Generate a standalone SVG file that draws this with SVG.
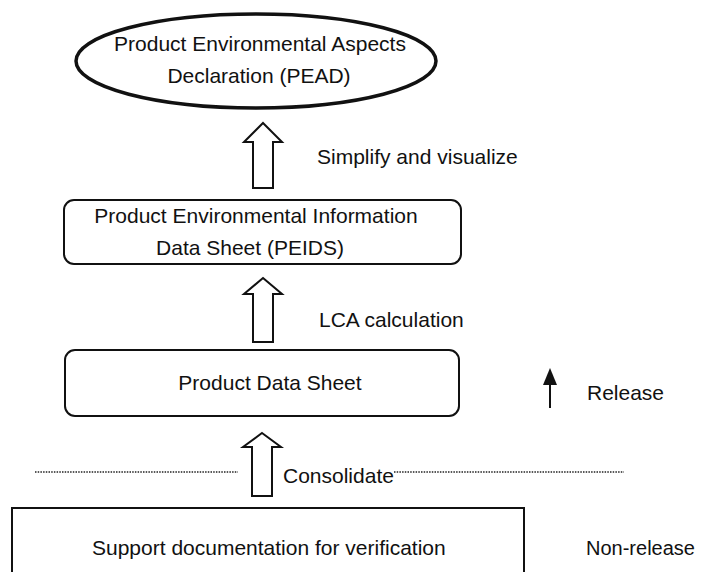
<svg xmlns="http://www.w3.org/2000/svg" width="703" height="572" viewBox="0 0 703 572">
<style>
text{font-family:"Liberation Sans",Arial,sans-serif;font-size:21px;fill:#111}
.c{text-anchor:middle}
.box{fill:none;stroke:#111;stroke-width:2}
.flow{fill:#fff;stroke:#111;stroke-width:2;stroke-linejoin:miter}
.dot{stroke:#222;stroke-width:1.5;stroke-dasharray:1.5 1.2;fill:none}
</style>
<rect width="703" height="572" fill="#fff"/>
<g id="pead">
<ellipse cx="256" cy="61" rx="180" ry="47" fill="none" stroke="#111" stroke-width="3.5"/>
<text class="c" x="260" y="51">Product Environmental Aspects</text>
<text class="c" x="259" y="83">Declaration (PEAD)</text>
</g>
<g id="peids">
<rect class="box" x="64" y="200" width="397" height="64" rx="10"/>
<text class="c" x="256" y="223">Product Environmental Information</text>
<text class="c" x="250" y="255">Data Sheet (PEIDS)</text>
</g>
<g id="pds">
<rect class="box" x="65" y="350" width="394" height="66" rx="10"/>
<text class="c" x="270" y="390">Product Data Sheet</text>
</g>
<g id="support">
<path class="box" d="M12,574 L12,508 L524,508 L524,574"/>
<text x="92" y="555">Support documentation for verification</text>
</g>
<g id="connectors">
<polygon class="flow" points="263,123 282,142 273,142 273,188 253,188 253,142 244,142"/>
<polygon class="flow" points="263,278 282,294 273,294 273,342 253,342 253,294 244,294"/>
<polygon class="flow" points="262,433 281,447 272,447 272,496 252,496 252,447 243,447"/>
<line x1="550" y1="408" x2="550" y2="382" stroke="#111" stroke-width="2"/>
<polygon points="550,368 557,385 543,385" fill="#111"/>
<line class="dot" x1="35" y1="472" x2="238" y2="472"/>
<line class="dot" x1="394" y1="472" x2="624" y2="472"/>
</g>
<g id="labels">
<text x="317" y="164">Simplify and visualize</text>
<text x="319" y="327">LCA calculation</text>
<text x="283" y="483">Consolidate</text>
<text x="587" y="400">Release</text>
<text x="586" y="555" style="font-size:20px">Non-release</text>
</g>
</svg>
